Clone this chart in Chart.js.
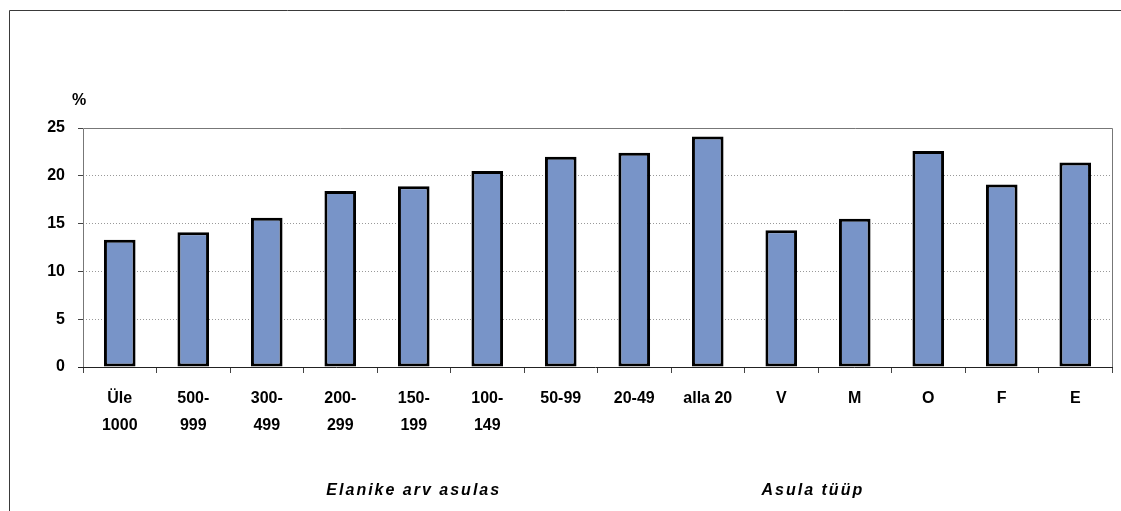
<!DOCTYPE html>
<html>
<head>
<meta charset="utf-8">
<script src="https://cdn.jsdelivr.net/npm/chart.js@4"></script>
<style>
  html, body { margin: 0; padding: 0; background: #fff; }
  #wrap { width: 1121px; height: 511px; }
</style>
</head>
<body>
<div id="wrap"><canvas id="c" width="1121" height="511"></canvas></div>
<script>
const categories = [
  ['Üle', '1000'], ['500-', '999'], ['300-', '499'], ['200-', '299'],
  ['150-', '199'], ['100-', '149'], '50-99', '20-49', 'alla 20',
  'V', 'M', 'O', 'F', 'E'
];
const values = [13.3, 14.1, 15.6, 18.4, 18.9, 20.5, 22.0, 22.4, 24.1, 14.3, 15.5, 22.6, 19.1, 21.4];
const yTicks = [0, 5, 10, 15, 20, 25];
const groupTitles = [
  { text: 'Elanike arv asulas', at: 4 },
  { text: 'Asula tüüp', at: 9.43 }
];
const unitLabel = '%';

const FONT = "'Liberation Sans', Arial, sans-serif";

const extras = {
  id: 'extras',
  beforeDraw(chart) {
    const ctx = chart.ctx;
    ctx.save();
    // outer frame (left + top)
    ctx.strokeStyle = '#3a3a3a';
    ctx.lineWidth = 1;
    ctx.beginPath();
    ctx.moveTo(9.5, 511);
    ctx.lineTo(9.5, 10.5);
    ctx.lineTo(1121, 10.5);
    ctx.stroke();
    ctx.restore();
  },
  afterDatasetsDraw(chart) {
    const { ctx, chartArea: a, scales } = chart;
    ctx.save();
    // plot frame
    ctx.lineWidth = 1;
    ctx.strokeStyle = '#777';
    ctx.beginPath();
    ctx.moveTo(Math.round(a.left) + 0.5, Math.round(a.bottom));
    ctx.lineTo(Math.round(a.left) + 0.5, Math.round(a.top) + 0.5);
    ctx.lineTo(Math.round(a.right) + 0.5, Math.round(a.top) + 0.5);
    ctx.lineTo(Math.round(a.right) + 0.5, Math.round(a.bottom));
    ctx.stroke();
    ctx.strokeStyle = '#222';
    ctx.beginPath();
    ctx.moveTo(a.left - 5, Math.round(a.bottom) + 0.5);
    ctx.lineTo(a.right + 1, Math.round(a.bottom) + 0.5);
    ctx.stroke();
    // unit label
    ctx.fillStyle = '#000';
    ctx.font = 'bold 16px ' + FONT;
    ctx.textAlign = 'center';
    ctx.textBaseline = 'middle';
    ctx.fillText(unitLabel, 79, 101);
    // group titles
    ctx.font = 'italic bold 16px ' + FONT;
    ctx.letterSpacing = '2px';
    groupTitles.forEach(g => {
      ctx.fillText(g.text, scales.x.getPixelForValue(g.at), 491);
    });
    ctx.restore();
  }
};

new Chart(document.getElementById('c'), {
  type: 'bar',
  data: {
    labels: categories,
    datasets: [{
      data: values,
      backgroundColor: '#7894c8',
      borderColor: '#000',
      borderWidth: 3,
      borderSkipped: false,
      barPercentage: 0.43,
      categoryPercentage: 1
    }]
  },
  options: {
    responsive: false,
    animation: false,
    layout: { padding: { left: 20, top: 128, right: 9, bottom: 0 } },
    plugins: { legend: { display: false }, tooltip: { enabled: false } },
    scales: {
      x: {
        offset: true,
        afterFit: s => { s.height = 144; },
        grid: {
          offset: true,
          drawOnChartArea: false,
          drawTicks: true,
          tickLength: 6,
          tickColor: '#444'
        },
        border: { display: false },
        ticks: {
          color: '#000',
          padding: 12,
          maxRotation: 0,
          autoSkip: false,
          font: { family: FONT, size: 16, weight: 'bold', lineHeight: 1.69 }
        }
      },
      y: {
        min: 0,
        max: 25,
        afterFit: s => { s.width = 63; },
        afterBuildTicks: s => { s.ticks = yTicks.map(v => ({ value: v })); },
        grid: {
          color: ctx => (ctx.tick && (ctx.tick.value === 0 || ctx.tick.value === 25)) ? 'rgba(0,0,0,0)' : '#999',
          tickColor: '#444',
          tickLength: 5,
          tickBorderDash: [],
          lineWidth: 1
        },
        border: { display: false, dash: [1, 2] },
        ticks: {
          color: '#000',
          padding: 13,
          font: { family: FONT, size: 16, weight: 'bold' }
        }
      }
    }
  },
  plugins: [extras]
});
</script>
</body>
</html>
